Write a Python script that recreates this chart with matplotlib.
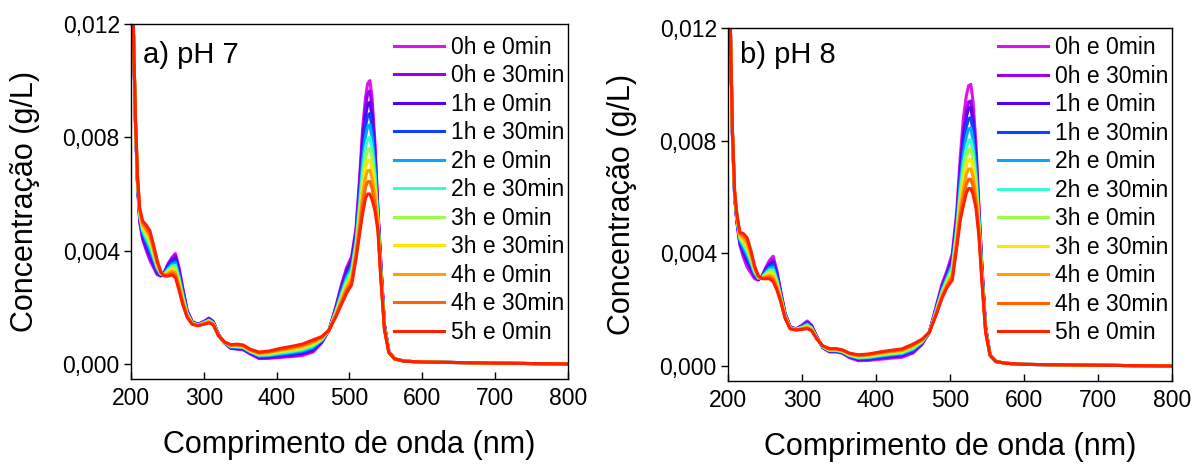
import numpy as np
import matplotlib.pyplot as plt
from matplotlib.ticker import FuncFormatter

plt.rcParams['font.family'] = ['Liberation Sans', 'DejaVu Sans']

labels = ['0h e 0min', '0h e 30min', '1h e 0min', '1h e 30min', '2h e 0min',
          '2h e 30min', '3h e 0min', '3h e 30min', '4h e 0min', '4h e 30min',
          '5h e 0min']
colors = ['#e010f0', '#9a00f0', '#5500f0', '#1040ff', '#00aaff', '#33ffcc',
          '#99ff44', '#ffe600', '#ffa000', '#ff6400', '#ff2000']

wavelength = [203, 206, 209, 212, 216, 221, 226, 231, 236, 241, 246, 251, 256,
              261, 266, 271, 277, 284, 292, 300, 307, 313, 320, 328, 337, 346,
              354, 364, 376, 390, 405, 420, 435, 450, 462, 472, 481, 489, 496,
              503, 509, 514, 518, 522, 525, 528, 531, 535, 539, 543, 548, 554,
              562, 575, 600, 700, 800]

# concentration in 1e-4 g/L, one row per wavelength, one column per time
ph7_rows = [
    [122, 122, 122, 122, 122, 122, 122, 122, 122, 122, 122],
    [86, 86.2, 86.4, 86.6, 86.8, 87, 87.2, 87.4, 87.6, 87.8, 88],
    [63, 63.3, 63.6, 63.9, 64.2, 64.5, 64.8, 65.1, 65.4, 65.7, 66],
    [50, 50.5, 51, 51.5, 52, 52.5, 53, 53.5, 54, 54.5, 55],
    [44, 44.6, 45.2, 45.9, 46.5, 47.2, 47.9, 48.5, 49.1, 49.8, 50.5],
    [40, 40.8, 41.7, 42.6, 43.5, 44.5, 45.4, 46.3, 47.1, 48, 49],
    [36.5, 37.4, 38.5, 39.5, 40.6, 41.8, 42.8, 43.9, 44.8, 45.8, 47],
    [34, 34.7, 35.5, 36.3, 37.1, 38, 38.8, 39.6, 40.3, 41.1, 42],
    [31.5, 31.9, 32.5, 33, 33.5, 34, 34.5, 35, 35.5, 36, 36.5],
    [31, 31.1, 31.3, 31.4, 31.6, 31.8, 31.9, 32.1, 32.2, 32.3, 32.5],
    [32.5, 32.4, 32.2, 32.1, 31.9, 31.8, 31.6, 31.5, 31.3, 31.2, 31],
    [35.5, 35.1, 34.6, 34.2, 33.7, 33.3, 32.8, 32.4, 31.9, 31.5, 31],
    [37.5, 37, 36.4, 35.8, 35.2, 34.5, 33.9, 33.3, 32.8, 32.2, 31.5],
    [39, 38.2, 37.4, 36.5, 35.7, 34.8, 33.9, 33.1, 32.3, 31.4, 30.5],
    [34, 33.3, 32.5, 31.7, 30.9, 30, 29.2, 28.4, 27.7, 26.9, 26],
    [27, 26.5, 25.9, 25.3, 24.7, 24, 23.4, 22.8, 22.3, 21.7, 21],
    [19, 18.8, 18.5, 18.3, 18, 17.8, 17.5, 17.3, 17, 16.8, 16.5],
    [15, 14.9, 14.8, 14.7, 14.6, 14.5, 14.4, 14.3, 14.2, 14.1, 14],
    [14, 14, 13.9, 13.9, 13.8, 13.8, 13.7, 13.7, 13.6, 13.6, 13.5],
    [15, 14.9, 14.8, 14.7, 14.6, 14.5, 14.4, 14.3, 14.2, 14.1, 14],
    [16.2, 16, 15.9, 15.7, 15.5, 15.4, 15.2, 15, 14.9, 14.7, 14.5],
    [15, 14.9, 14.8, 14.7, 14.5, 14.4, 14.3, 14.2, 14.1, 13.9, 13.8],
    [10.5, 10.5, 10.4, 10.4, 10.3, 10.3, 10.2, 10.2, 10.1, 10.1, 10],
    [7.5, 7.5, 7.6, 7.6, 7.6, 7.7, 7.7, 7.7, 7.7, 7.8, 7.8],
    [5.5, 5.6, 5.7, 5.9, 6, 6.2, 6.3, 6.4, 6.5, 6.7, 6.8],
    [5.2, 5.4, 5.5, 5.7, 5.9, 6.1, 6.3, 6.5, 6.6, 6.8, 7],
    [5, 5.2, 5.3, 5.5, 5.7, 5.9, 6, 6.2, 6.3, 6.5, 6.7],
    [3.5, 3.7, 3.8, 4, 4.2, 4.4, 4.5, 4.7, 4.8, 5, 5.2],
    [1.9, 2.1, 2.3, 2.6, 2.8, 3.1, 3.3, 3.5, 3.7, 3.9, 4.2],
    [2, 2.2, 2.5, 2.8, 3, 3.3, 3.6, 3.8, 4.1, 4.3, 4.6],
    [2.3, 2.6, 2.9, 3.2, 3.5, 3.9, 4.2, 4.5, 4.8, 5.1, 5.5],
    [2.6, 2.9, 3.3, 3.6, 4, 4.4, 4.8, 5.1, 5.4, 5.8, 6.2],
    [3, 3.4, 3.8, 4.2, 4.6, 5, 5.4, 5.8, 6.2, 6.6, 7],
    [4.2, 4.6, 5, 5.4, 5.9, 6.4, 6.8, 7.2, 7.6, 8, 8.5],
    [7.5, 7.7, 7.9, 8.1, 8.4, 8.6, 8.8, 9, 9.2, 9.5, 9.7],
    [12, 12, 12, 12, 12, 12, 12, 12, 12, 12, 12],
    [20, 19.7, 19.3, 19, 18.6, 18.3, 17.9, 17.6, 17.2, 16.9, 16.5],
    [28, 27.4, 26.7, 26, 25.3, 24.5, 23.8, 23.1, 22.5, 21.8, 21],
    [34, 33.2, 32.3, 31.4, 30.5, 29.5, 28.6, 27.7, 26.9, 26, 25],
    [38, 37.1, 36.1, 35.1, 34.1, 33, 32, 31, 30.1, 29.1, 28],
    [48, 47, 45.9, 44.8, 43.7, 42.5, 41.4, 40.3, 39.3, 38.2, 37],
    [66, 64.2, 62.2, 60.2, 58.2, 56, 54, 52, 50.2, 48.2, 46],
    [83, 80.3, 77.3, 74.3, 71.3, 68, 65, 62, 59.3, 56.3, 53],
    [94, 90.8, 87.3, 83.7, 80.2, 76.3, 72.7, 69.2, 66, 62.4, 58.5],
    [99, 95.5, 91.6, 87.7, 83.8, 79.5, 75.6, 71.7, 68.2, 64.3, 60],
    [100, 96.4, 92.4, 88.4, 84.4, 80, 76, 72, 68.4, 64.4, 60],
    [94, 90.8, 87.2, 83.6, 80, 76, 72.4, 68.8, 65.6, 62, 58],
    [78, 75.8, 73.4, 71, 68.6, 66, 63.6, 61.2, 59, 56.6, 54],
    [55, 54.3, 53.5, 52.7, 51.9, 51, 50.2, 49.4, 48.7, 47.9, 47],
    [36, 35.5, 34.9, 34.3, 33.7, 33, 32.4, 31.8, 31.3, 30.7, 30],
    [14, 13.8, 13.6, 13.4, 13.2, 13, 12.8, 12.6, 12.4, 12.2, 12],
    [4.5, 4.5, 4.4, 4.4, 4.3, 4.3, 4.2, 4.2, 4.1, 4.1, 4],
    [1.8, 1.8, 1.8, 1.8, 1.8, 1.8, 1.8, 1.8, 1.8, 1.8, 1.8],
    [1, 1, 1, 1, 1, 1, 1, 1, 1, 1, 1],
    [0.7, 0.7, 0.7, 0.7, 0.7, 0.7, 0.7, 0.7, 0.7, 0.7, 0.7],
    [0.3, 0.3, 0.3, 0.3, 0.3, 0.3, 0.3, 0.3, 0.3, 0.3, 0.3],
    [0, 0, 0, 0, 0, 0, 0, 0, 0, 0, 0],
]

ph8_rows = [
    [123, 123, 123, 123, 123, 123, 123, 123, 123, 123, 123],
    [82, 82.3, 82.4, 82.6, 82.8, 83.1, 83.2, 83.4, 83.6, 83.8, 84],
    [60, 60.3, 60.4, 60.6, 60.8, 61.1, 61.2, 61.4, 61.6, 61.8, 62],
    [51, 51.5, 51.7, 52, 52.3, 52.6, 52.9, 53.2, 53.4, 53.7, 54],
    [43, 43.7, 44, 44.4, 44.9, 45.4, 45.8, 46.2, 46.6, 47.1, 47.5],
    [38.5, 39.9, 40.4, 41.2, 42.1, 43, 43.8, 44.6, 45.4, 46.2, 47],
    [35, 36.7, 37.3, 38.4, 39.4, 40.6, 41.5, 42.6, 43.5, 44.6, 45.5],
    [33, 34.3, 34.8, 35.6, 36.4, 37.2, 38, 38.8, 39.5, 40.3, 41],
    [31, 31.7, 32, 32.4, 32.9, 33.4, 33.8, 34.2, 34.6, 35.1, 35.5],
    [30.5, 30.7, 30.8, 31, 31.1, 31.3, 31.4, 31.6, 31.7, 31.9, 32],
    [32, 31.8, 31.8, 31.7, 31.6, 31.5, 31.4, 31.3, 31.2, 31.1, 31],
    [35, 34.4, 34.1, 33.7, 33.3, 32.9, 32.5, 32.1, 31.8, 31.4, 31],
    [37.5, 36.5, 36.1, 35.4, 34.8, 34.1, 33.5, 32.8, 32.2, 31.6, 31],
    [39, 37.6, 37, 36.1, 35.2, 34.2, 33.4, 32.5, 31.7, 30.8, 30],
    [34, 32.9, 32.5, 31.8, 31.1, 30.3, 29.7, 29, 28.3, 27.6, 27],
    [27, 26.4, 26.1, 25.7, 25.3, 24.9, 24.5, 24.1, 23.8, 23.4, 23],
    [19, 18.7, 18.6, 18.4, 18.2, 17.9, 17.8, 17.6, 17.4, 17.2, 17],
    [14, 13.9, 13.8, 13.7, 13.7, 13.6, 13.5, 13.4, 13.4, 13.3, 13.2],
    [13.2, 13.1, 13.1, 13.1, 13, 13, 13, 12.9, 12.9, 12.8, 12.8],
    [14.5, 14.3, 14.2, 14, 13.9, 13.7, 13.6, 13.4, 13.3, 13.1, 13],
    [16, 15.6, 15.4, 15.1, 14.9, 14.6, 14.3, 14.1, 13.8, 13.5, 13.3],
    [14.5, 14.2, 14.1, 13.9, 13.7, 13.4, 13.3, 13.1, 12.9, 12.7, 12.5],
    [10.5, 10.4, 10.3, 10.2, 10.1, 10, 9.9, 9.9, 9.8, 9.7, 9.6],
    [6.5, 6.6, 6.7, 6.7, 6.8, 6.9, 6.9, 7, 7.1, 7.1, 7.2],
    [5, 5.2, 5.3, 5.4, 5.5, 5.6, 5.7, 5.9, 6, 6.1, 6.2],
    [5, 5.2, 5.3, 5.4, 5.5, 5.6, 5.7, 5.9, 6, 6.1, 6.2],
    [4.6, 4.8, 4.9, 5, 5.1, 5.2, 5.3, 5.5, 5.6, 5.7, 5.8],
    [3, 3.3, 3.4, 3.5, 3.7, 3.8, 4, 4.2, 4.3, 4.5, 4.6],
    [1.9, 2.2, 2.4, 2.6, 2.8, 3, 3.2, 3.4, 3.6, 3.8, 4],
    [2, 2.4, 2.5, 2.7, 3, 3.2, 3.4, 3.7, 3.9, 4.1, 4.3],
    [2.4, 2.8, 3, 3.2, 3.5, 3.8, 4, 4.3, 4.5, 4.8, 5],
    [2.8, 3.2, 3.4, 3.7, 4, 4.3, 4.5, 4.8, 5.1, 5.3, 5.6],
    [3.1, 3.6, 3.8, 4.1, 4.4, 4.7, 5, 5.3, 5.5, 5.8, 6.1],
    [4.6, 5.1, 5.3, 5.6, 5.9, 6.3, 6.6, 6.9, 7.2, 7.5, 7.8],
    [7.6, 7.9, 8, 8.2, 8.4, 8.6, 8.8, 9, 9.1, 9.3, 9.5],
    [12, 12, 12, 12, 12, 12, 12, 12, 12, 12, 12],
    [21, 20.5, 20.3, 20, 19.7, 19.4, 19.1, 18.8, 18.6, 18.3, 18],
    [29, 28.2, 27.9, 27.4, 26.9, 26.4, 25.9, 25.4, 25, 24.5, 24],
    [34, 33, 32.7, 32.1, 31.5, 30.8, 30.3, 29.7, 29.1, 28.5, 28],
    [40, 38.5, 37.9, 37, 36, 35, 34.1, 33.2, 32.3, 31.4, 30.5],
    [55, 52.9, 52.1, 50.8, 49.5, 48.1, 46.9, 45.6, 44.5, 43.2, 42],
    [75, 71.3, 69.9, 67.6, 65.3, 62.8, 60.7, 58.4, 56.4, 54.1, 52],
    [88, 83, 81.2, 78.1, 75, 71.6, 68.8, 65.7, 62.9, 59.8, 57],
    [96, 90.5, 88.4, 85, 81.5, 77.7, 74.6, 71.2, 68.1, 64.6, 61.5],
    [99.5, 93.7, 91.5, 87.8, 84.2, 80.2, 76.9, 73.2, 69.9, 66.3, 63],
    [100, 94.1, 91.9, 88.2, 84.5, 80.4, 77.1, 73.4, 70, 66.3, 63],
    [94, 88.7, 86.7, 83.4, 80.1, 76.5, 73.5, 70.2, 67.3, 64, 61],
    [79, 75.3, 73.9, 71.6, 69.3, 66.8, 64.7, 62.4, 60.4, 58.1, 56],
    [57, 55.2, 54.6, 53.5, 52.4, 51.2, 50.2, 49.1, 48.1, 47, 46],
    [36, 35, 34.7, 34.1, 33.5, 32.8, 32.3, 31.7, 31.1, 30.5, 30],
    [14, 13.7, 13.6, 13.4, 13.2, 12.9, 12.8, 12.6, 12.4, 12.2, 12],
    [4, 4, 4, 3.9, 3.9, 3.9, 3.9, 3.9, 3.8, 3.8, 3.8],
    [1.6, 1.6, 1.6, 1.6, 1.6, 1.6, 1.6, 1.6, 1.6, 1.6, 1.6],
    [1, 1, 1, 1, 1, 1, 1, 1, 1, 1, 1],
    [0.6, 0.6, 0.6, 0.6, 0.6, 0.6, 0.6, 0.6, 0.6, 0.6, 0.6],
    [0.3, 0.3, 0.3, 0.3, 0.3, 0.3, 0.3, 0.3, 0.3, 0.3, 0.3],
    [0, 0, 0, 0, 0, 0, 0, 0, 0, 0, 0],
]


def comma(v, pos):
    return f"{v:.3f}".replace(".", ",")


def draw_panel(ax, rows, tag, tag_y, leg_y):
    conc = np.array(rows).T * 1e-4
    for k in range(len(labels)):
        ax.plot(wavelength, conc[k], color=colors[k], lw=2.2, label=labels[k])

    ax.set_xlim(200, 800)
    ax.set_ylim(-0.00053, 0.012)
    ax.set_xticks([200, 300, 400, 500, 600, 700, 800])
    ax.set_yticks([0, 0.004, 0.008, 0.012])
    ax.yaxis.set_major_formatter(FuncFormatter(comma))
    ax.tick_params(axis='x', direction='in', length=5, width=1, pad=6, labelsize=16.5)
    ax.tick_params(axis='y', direction='out', length=5, width=1, pad=3, labelsize=16.5)
    for s in ax.spines.values():
        s.set_linewidth(1)

    ax.set_xlabel('Comprimento de onda (nm)', fontsize=22, labelpad=14)
    ax.set_ylabel('Concentração (g/L)', fontsize=22, labelpad=16)
    ax.text(0.027, tag_y, tag, transform=ax.transAxes, fontsize=21, va='baseline')

    ax.legend(loc='upper right', bbox_to_anchor=(0.992, leg_y), frameon=False,
              fontsize=16.5, handlelength=2.2, handletextpad=0.3,
              labelspacing=0.24, borderaxespad=0, borderpad=0)


fig = plt.figure(figsize=(11.94, 4.66), dpi=100)
ax1 = fig.add_axes([0.1097, 0.1867, 0.366, 0.762])
ax2 = fig.add_axes([0.6097, 0.1824, 0.372, 0.7575])

draw_panel(ax1, ph7_rows, 'a) pH 7', 0.89, 0.966)
draw_panel(ax2, ph8_rows, 'b) pH 8', 0.902, 0.977)

fig.savefig('out.png', dpi=100)
